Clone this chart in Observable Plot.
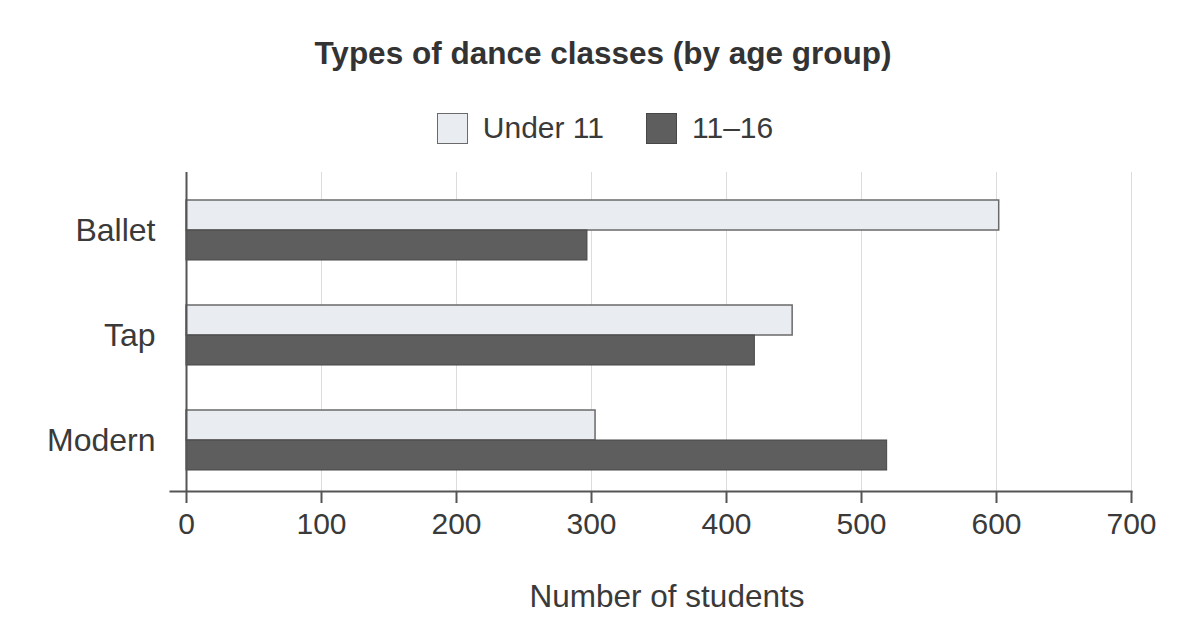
<!DOCTYPE html>
<html>
<head>
<meta charset="utf-8">
<script src="https://cdn.jsdelivr.net/npm/d3@7"></script>
<script src="https://cdn.jsdelivr.net/npm/@observablehq/plot@0.6"></script>
<style>
  html, body { margin: 0; padding: 0; background: #fff; }
  body { width: 1202px; height: 619px; overflow: hidden; font-family: "Liberation Sans", Arial, sans-serif; color: #3a3a3a; }
  #title { margin-top: 35px; height: 36px; line-height: 36px; font-size: 31.5px; font-weight: bold; text-align: center; color: #333; padding-left: 4px; }
  #legend { height: 89px; display: flex; align-items: center; justify-content: center; font-size: 30px; color: #3a3a3a; padding-left: 8px; box-sizing: border-box; padding-top: 25px; }
  .item { display: flex; align-items: center; margin: 0 21px; }
  .sw { width: 31px; height: 31px; box-sizing: border-box; margin-right: 15px; }
</style>
</head>
<body>
<div id="title"></div>
<div id="legend"></div>
<div id="chart"></div>
<script>
const categories = ["Ballet", "Tap", "Modern"];
const seriesNames = ["Under 11", "11\u201316"];
const under11 = [602, 449, 303];
const age11to16 = [297, 421, 519];
const xTicks = [0, 100, 200, 300, 400, 500, 600, 700];
const titleText = "Types of dance classes (by age group)";
const xLabel = "Number of students";

const colors = {fill: ["#e9ecf1", "#5e5e5e"], stroke: ["#6a6a6a", "#474747"]};

document.getElementById("title").textContent = titleText;
const legend = document.getElementById("legend");
seriesNames.forEach((name, i) => {
  const item = document.createElement("div");
  item.className = "item";
  const sw = document.createElement("div");
  sw.className = "sw";
  sw.style.background = colors.fill[i];
  sw.style.border = `1.5px solid ${colors.stroke[i]}`;
  const t = document.createElement("span");
  t.textContent = name;
  item.appendChild(sw);
  item.appendChild(t);
  legend.appendChild(item);
});

const dataU = categories.map((c, i) => ({category: c, value: under11[i]}));
const dataO = categories.map((c, i) => ({category: c, value: age11to16[i]}));

const chart = Plot.plot({
  width: 1202,
  height: 459,
  marginTop: 12,
  marginBottom: 128,
  marginLeft: 186,
  marginRight: 71,
  style: {fontFamily: "Liberation Sans, Arial, sans-serif", color: "#3a3a3a", background: "#fff"},
  x: {domain: [0, 700]},
  y: {domain: categories, paddingInner: 0.4286, paddingOuter: 0.233, align: 0.58},
  marks: [
    Plot.gridX(xTicks, {stroke: "#dcdcdc", strokeOpacity: 1, strokeWidth: 1}),
    Plot.barX(dataU, {x: "value", y: "category", insetBottom: 30, fill: colors.fill[0], stroke: colors.stroke[0], strokeWidth: 1.5}),
    Plot.barX(dataO, {x: "value", y: "category", insetTop: 30, fill: colors.fill[1], stroke: colors.stroke[1], strokeWidth: 1}),
    Plot.ruleX([0], {stroke: "#555", strokeWidth: 2}),
    Plot.frame({anchor: "bottom", stroke: "#555", strokeWidth: 2, insetLeft: -16}),
    Plot.axisX(xTicks, {tickSize: 12, tickPadding: 9, fontSize: 30, stroke: "#555", strokeWidth: 2, fill: "#3a3a3a", label: null}),
    Plot.text([xLabel], {frameAnchor: "bottom", dx: 8, dy: 115, fontSize: 31.5, fill: "#3a3a3a"}),
    Plot.axisY({tickSize: 0, tickPadding: 31, fontSize: 32, fill: "#3a3a3a", label: null})
  ]
});
document.getElementById("chart").appendChild(chart);
</script>
</body>
</html>
